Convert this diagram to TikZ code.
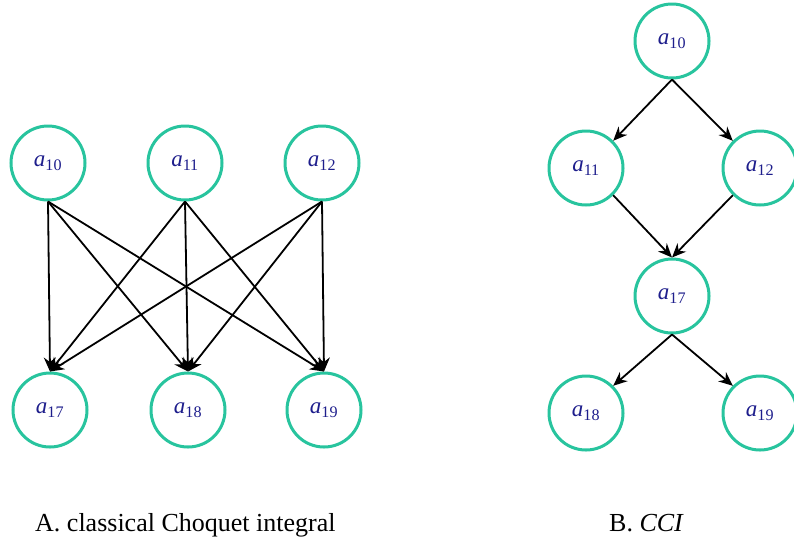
\documentclass[tikz,border=0pt]{standalone}
\usepackage{fontspec}
\setmainfont{Liberation Serif}
\usepackage{xcolor}
\usetikzlibrary{arrows.meta,positioning}

\definecolor{ringgreen}{RGB}{40,196,158}
\definecolor{labelblue}{RGB}{30,30,140}

\newcommand{\attr}[1]{\raisebox{-3pt}{\textit{a}\textsubscript{#1}}}

\begin{document}
\begin{tikzpicture}[
    x=1pt, y=-1pt,
    attrnode/.style={circle, draw=ringgreen, line width=3pt, minimum size=74pt, inner sep=0pt,
        font=\fontsize{23}{25}\selectfont, text=labelblue},
    link/.style={-{Stealth[length=14pt,width=12pt]}, line width=1.8pt, black},
    caption/.style={font=\fontsize{26}{28}\selectfont, anchor=base west, inner sep=0pt}
]
    \useasboundingbox (0,0) rectangle (794,542);

    % A: every upper attribute feeds every lower one
    \node[attrnode] (A10) at (48,163) {\attr{10}};
    \node[attrnode] (A11) at (185,163) {\attr{11}};
    \node[attrnode] (A12) at (322,163) {\attr{12}};
    \node[attrnode] (A17) at (50,410) {\attr{17}};
    \node[attrnode] (A18) at (188,410) {\attr{18}};
    \node[attrnode] (A19) at (324,410) {\attr{19}};

    \foreach \s in {A10,A11,A12}
        \foreach \t in {A17,A18,A19}
            \draw[link] (\s.south) -- (\t.north);

    % B: hierarchy
    \node[attrnode] (B10) at (672,41) {\attr{10}};
    \node[attrnode] (B11) at (586,168) {\attr{11}};
    \node[attrnode] (B12) at (760,168) {\attr{12}};
    \node[attrnode] (B17) at (672,296) {\attr{17}};
    \node[attrnode] (B18) at (586,413) {\attr{18}};
    \node[attrnode] (B19) at (760,413) {\attr{19}};

    \draw[link] (B10.south) -- (B11.north east);
    \draw[link] (B10.south) -- (B12.north west);
    \draw[link] (B11.south east) -- (B17.north);
    \draw[link] (B12.south west) -- (B17.north);
    \draw[link] (B17.south) -- (B18.north east);
    \draw[link] (B17.south) -- (B19.north west);

    % captions
    \node[caption] (capA) at (35,531) {A. classical Choquet integral};
    \node[caption] (capB) at (609,531) {B. \textit{CCI}};
\end{tikzpicture}
\end{document}
